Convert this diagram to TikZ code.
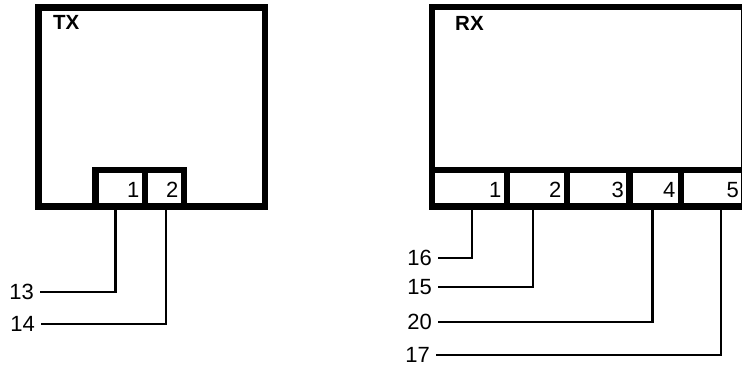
\documentclass[tikz,border=0pt]{standalone}
\usepackage{fontspec}
\setmainfont{Liberation Sans}
\usetikzlibrary{positioning}

\begin{document}
\begin{tikzpicture}[x=1pt,y=-1pt,
    box/.style={draw,rectangle,line width=6.5pt,inner sep=0pt,outer sep=0pt},
    cell/.style={box,minimum height=36.5pt},
    title/.style={font=\fontsize{20.5}{24}\selectfont\bfseries,inner sep=0pt},
    num/.style={font=\fontsize{22}{26}\selectfont,inner sep=0pt,anchor=east,xshift=-5.5pt,yshift=-1.5pt},
    pin/.style={font=\fontsize{22}{26}\selectfont,inner sep=6pt,anchor=east},
    wire/.style={line width=2.5pt}]
  \useasboundingbox (0,0) rectangle (742,368);

  % TX unit
  \node (tx) [box,minimum width=226.5pt,minimum height=199pt,anchor=north west] at (38.5,7.5) {};
  \node (txname) [title,below right=8pt and 14.5pt of tx.north west] {TX};
  \node (tp1) [cell,minimum width=49.5pt,anchor=south west,label={[num]east:1}] at (95.5,206.5) {};
  \node (tp2) [cell,minimum width=39pt,right=0pt of tp1,label={[num]east:2}] {};

  \node (l13) [pin] at (40,292) {13};
  \node (l14) [pin] at (41,324) {14};
  \draw [wire] ([xshift=-5pt]tp1.south) |- (l13.east);
  \draw [wire] ([xshift=1.5pt]tp2.south) |- (l14.east);

  % RX unit
  \node (rx) [box,minimum width=312.5pt,minimum height=199.5pt,anchor=north west] at (432,7) {};
  \node (rxname) [title,below right=9.5pt and 23pt of rx.north west] {RX};
  \node (rp1) [cell,minimum width=75pt,anchor=south west,label={[num]east:1}] at (432,206.5) {};
  \node (rp2) [cell,minimum width=60pt,right=0pt of rp1,label={[num]east:2}] {};
  \node (rp3) [cell,minimum width=62.5pt,right=0pt of rp2,label={[num]east:3}] {};
  \node (rp4) [cell,minimum width=51.5pt,right=0pt of rp3,label={[num]east:4}] {};
  \node (rp5) [cell,minimum width=63.5pt,right=0pt of rp4,label={[num]east:5}] {};

  \node (l16) [pin] at (438,258) {16};
  \node (l15) [pin] at (438,287) {15};
  \node (l20) [pin] at (438,322) {20};
  \node (l17) [pin] at (436,355) {17};
  \draw [wire] ([xshift=2.5pt]rp1.south) |- (l16.east);
  \draw [wire] ([xshift=-4pt]rp2.south) |- (l15.east);
  \draw [wire] ([xshift=-3pt]rp4.south) |- (l20.east);
  \draw [wire] ([xshift=8pt]rp5.south) |- (l17.east);
\end{tikzpicture}
\end{document}
